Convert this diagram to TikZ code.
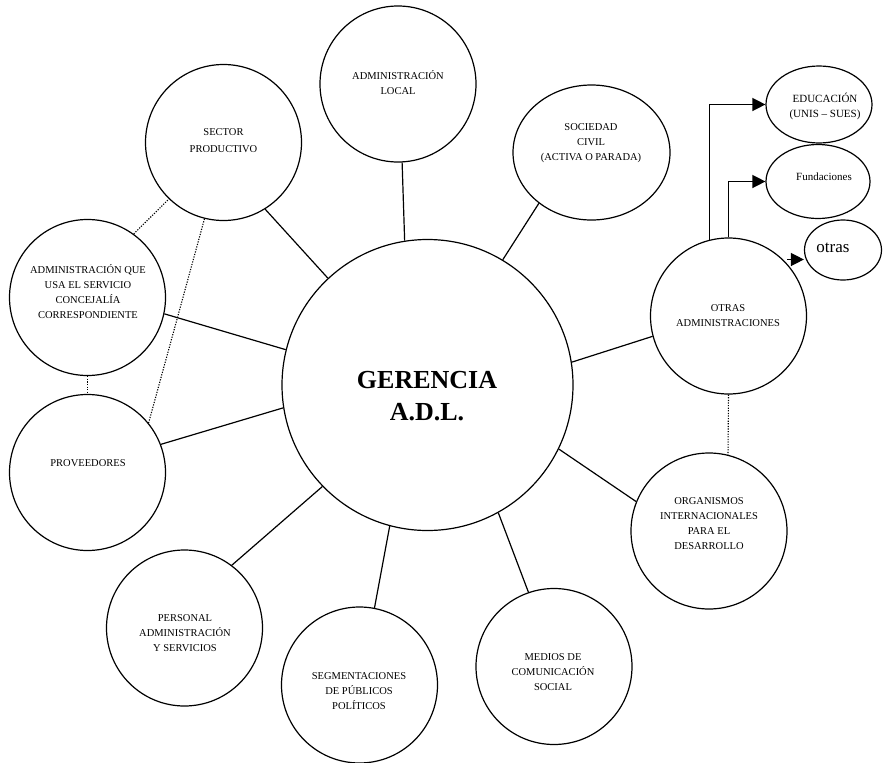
\documentclass[tikz,border=0pt]{standalone}
\usepackage{fontspec}
\setmainfont{Liberation Serif}
\usetikzlibrary{shapes.geometric,arrows.meta}

\begin{document}
\begin{tikzpicture}[x=1pt,y=-1pt,
  bub/.style={circle,draw,line width=1.2pt,inner sep=0pt,minimum size=156pt},
  oval/.style={ellipse,draw,line width=1.2pt,inner sep=0pt},
  lbl/.style={align=center,inner sep=0pt,font=\fontsize{10.5}{15}\selectfont},
  spoke/.style={line width=1.2pt},
  tie/.style={line width=1.1pt,dash pattern=on 1.2pt off 1.4pt},
  feed/.style={line width=1.4pt,-{Triangle[length=13pt,width=13pt]}}]

\useasboundingbox (0,0) rectangle (884,763);

% central node and satellites
\node[bub,minimum size=291pt] (ger) at (427.5,385) {};
\node[bub] (al) at (398,84) {};
\node[oval,minimum width=157pt,minimum height=135pt] (sc) at (591.5,152.5) {};
\node[bub] (sp) at (223.5,142.5) {};
\node[bub] (aq) at (87.5,297.5) {};
\node[bub] (pv) at (87.5,472.5) {};
\node[bub] (pa) at (184.5,628) {};
\node[bub] (sg) at (359.5,685) {};
\node[bub] (mc) at (554,666.5) {};
\node[bub] (oi) at (709,531) {};
\node[bub] (oa) at (728.5,316) {};
\node[oval,minimum width=106pt,minimum height=77pt] (ed) at (819,104.5) {};
\node[oval,minimum width=104pt,minimum height=74pt] (fu) at (818,181.5) {};
\node[oval,minimum width=77pt,minimum height=60pt] (ot) at (843,250) {};

% labels
\node[align=center,inner sep=0pt,font=\fontsize{26}{32}\selectfont\bfseries] (gert) at (427,396) {GERENCIA\\A.D.L.};
\node[lbl] (alt) at (398,82.5) {ADMINISTRACIÓN\\LOCAL};
\node[lbl] (sct) at (591,143) {SOCIEDAD\\CIVIL\\(ACTIVA O PARADA)};
\node[lbl,font=\fontsize{10.5}{17}\selectfont] (spt) at (223.5,140.5) {SECTOR\\PRODUCTIVO};
\node[lbl] (aqt) at (88,291.5) {ADMINISTRACIÓN QUE\\USA EL SERVICIO\\CONCEJALÍA\\CORRESPONDIENTE};
\node[lbl] (pvt) at (88,463) {PROVEEDORES};
\node[lbl] (pat) at (185,633) {PERSONAL\\ADMINISTRACIÓN\\Y SERVICIOS};
\node[lbl] (sgt) at (359,691) {SEGMENTACIONES\\DE PÚBLICOS\\POLÍTICOS};
\node[lbl] (mct) at (553,672) {MEDIOS DE\\COMUNICACIÓN\\SOCIAL};
\node[lbl] (oit) at (709,524) {ORGANISMOS\\INTERNACIONALES\\PARA EL\\DESARROLLO};
\node[lbl] (oat) at (728,315.5) {OTRAS\\ADMINISTRACIONES};
\node[lbl,font=\fontsize{11}{15}\selectfont] (edt) at (825,106.5) {EDUCACIÓN\\(UNIS – SUES)};
\node[lbl,font=\fontsize{11}{15}\selectfont] (fut) at (824,177) {Fundaciones};
\node[lbl,font=\fontsize{17}{20}\selectfont] (ott) at (833,248) {otras};

% solid spokes to the centre
\draw[spoke] (al.-87) -- (ger.99);
\draw[spoke] (sc.-136) -- (ger.59.6);
\draw[spoke] (sp.-58.4) -- (ger.133.6);
\draw[spoke] (aq.-12.7) -- (ger.166.2);
\draw[spoke] (pv.21.9) -- (ger.189.8);
\draw[spoke] (pa.53) -- (ger.-136.1);
\draw[spoke] (sg.79.5) -- (ger.-105.4);
\draw[spoke] (mc.109.5) -- (ger.-61.9);
\draw[spoke] (oi.158.3) -- (ger.-26.6);
\draw[spoke] (oa.195.3) -- (ger.9.8);

% dotted side relations
\draw[tie] (aq.54.8) -- (sp.-134.5);
\draw[tie] (aq.south) -- (pv.north);
\draw[tie] (sp.-104.8) -- (pv.39.9);
\draw[tie] (oa.south) -- (oi.76);

% branches of the other administrations
\draw[feed] (oa.104.8) |- (ed.west);
\draw[feed] (oa.90) |- (fu.west);
\coordinate (os) at (787,259.5);
\draw[feed] (os) -- (os -| ot.west);
\end{tikzpicture}
\end{document}
